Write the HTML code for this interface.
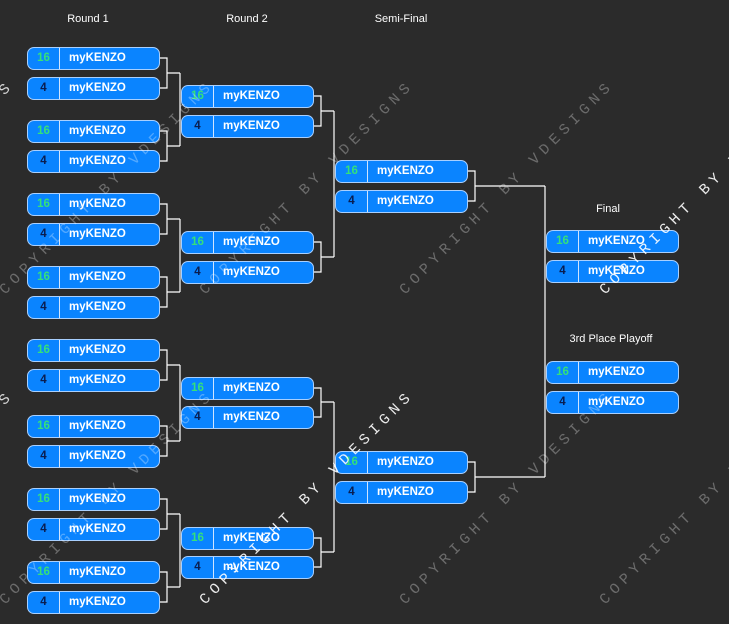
<!DOCTYPE html>
<html><head><meta charset="utf-8"><style>
body{margin:0;width:729px;height:624px;background:#2b2b2b;overflow:hidden;position:relative;font-family:"Liberation Sans",sans-serif}
.b{position:absolute;width:131px;height:21px;background:#0a84ff;border:1px solid #a9d0ff;border-radius:7px;box-sizing:content-box;color:#fff;font-weight:bold;font-size:11.5px}
.b .n{position:absolute;left:0;top:0;width:31px;height:21px;line-height:21px;text-align:center;border-right:1px solid #cfe4ff;color:#0a1d4f}
.b .n.g{color:#35e07a}
.b .t{position:absolute;left:41px;top:0;line-height:21px}
.h{position:absolute;color:#fff;font-size:11px;transform:translateX(-50%)}
svg{position:absolute;left:0;top:0}
</style></head><body>
<svg width="729" height="624">
<g stroke="#fff" stroke-width="1.2" fill="none">
<path d="M159,58H167V88H159M167,73H180"/>
<path d="M159,131H167V161H159M167,146H180M180,73V146"/>
<path d="M159,204H167V234H159M167,219H180"/>
<path d="M159,277H167V307H159M167,292H180M180,219V292"/>
<path d="M159,350H167V380H159M167,365H180"/>
<path d="M159,426H167V456H159M167,441H180M180,365V441"/>
<path d="M159,499H167V529H159M167,514H180"/>
<path d="M159,572H167V602H159M167,587H180M180,514V587"/>
<path d="M313,96H321V126H313M321,111H334"/>
<path d="M313,242H321V272H313M321,257H334M334,111V257"/>
<path d="M313,388H321V417H313M321,402H334"/>
<path d="M313,538H321V567H313M321,552H334M334,402V552"/>
<path d="M468,171H475V201H468M475,186H545"/>
<path d="M468,462H475V492H468M475,477H545M545,186V477"/>
</g>
</svg>
<div class="h" style="left:88px;top:13px">Round 1</div>
<div class="h" style="left:247px;top:13px">Round 2</div>
<div class="h" style="left:401px;top:13px">Semi-Final</div>
<div class="h" style="left:608px;top:203px">Final</div>
<div class="h" style="left:611px;top:333px">3rd Place Playoff</div>
<div id="boxes"></div>
<script>
var d=[[27,[58,88,131,161,204,234,277,307,350,380,426,456,499,529,572,602]],[181,[96,126,242,272,388,417,538,567]],[335,[171,201,462,492]],[546,[241,271,372,402]]];
var h='';d.forEach(function(c){c[1].forEach(function(y,i){var g=i%2==0;h+='<div class="b" style="left:'+c[0]+'px;top:'+(y-11)+'px"><span class="n'+(g?' g':'')+'">'+(g?'16':'4')+'</span><span class="t">myKENZO</span></div>';});});
document.getElementById('boxes').innerHTML=h;
</script>
<svg width="729" height="624" style="pointer-events:none">
<g font-family="Liberation Mono, monospace" font-size="15" letter-spacing="5.1">
<text transform="translate(-195,295) rotate(-45)" fill="rgba(255,255,255,0.8)">COPYRIGHT BY VDESIGNS</text>
<text transform="translate(5,295) rotate(-45)" fill="rgba(255,255,255,0.3)">COPYRIGHT BY VDESIGNS</text>
<text transform="translate(205,295) rotate(-45)" fill="rgba(255,255,255,0.3)">COPYRIGHT BY VDESIGNS</text>
<text transform="translate(405,295) rotate(-45)" fill="rgba(255,255,255,0.3)">COPYRIGHT BY VDESIGNS</text>
<text transform="translate(605,295) rotate(-45)" fill="rgba(255,255,255,0.9)">COPYRIGHT BY VDESIGNS</text>
<text transform="translate(-195,605) rotate(-45)" fill="rgba(255,255,255,0.8)">COPYRIGHT BY VDESIGNS</text>
<text transform="translate(5,605) rotate(-45)" fill="rgba(255,255,255,0.3)">COPYRIGHT BY VDESIGNS</text>
<text transform="translate(205,605) rotate(-45)" fill="rgba(255,255,255,0.9)">COPYRIGHT BY VDESIGNS</text>
<text transform="translate(405,605) rotate(-45)" fill="rgba(255,255,255,0.3)">COPYRIGHT BY VDESIGNS</text>
<text transform="translate(605,605) rotate(-45)" fill="rgba(255,255,255,0.3)">COPYRIGHT BY VDESIGNS</text>
</g>
</svg>
</body></html>
